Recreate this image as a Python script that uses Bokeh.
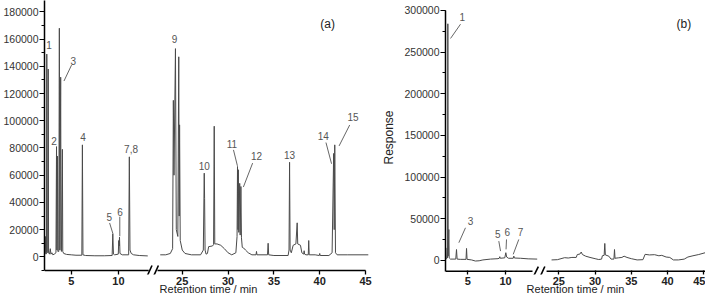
from bokeh.plotting import figure
from bokeh.layouts import row
from bokeh.models import (ColumnDataSource, FixedTicker, SingleIntervalTicker,
                          BasicTickFormatter, CustomJSTickFormatter, Label)
from bokeh.embed import file_html
from bokeh.resources import INLINE
from bokeh.core.properties import value

# ---------------- data: panel (a) ----------------
a_left_time = [2.17, 2.25, 2.30, 2.33, 2.38, 2.41, 2.45, 2.52, 2.56, 2.60, 2.70, 2.78, 2.85,
               2.95, 3.05, 3.20, 3.38, 3.44, 3.48, 3.54, 3.58, 3.68, 3.74, 3.79, 3.88, 3.92,
               3.96, 4.06, 4.10, 4.20, 4.50, 5.00, 5.50, 6.12, 6.18, 6.24, 6.50, 7.50, 8.50,
               9.33, 9.40, 9.47, 9.60, 9.98, 10.03, 10.07, 10.11, 10.16, 10.40, 11.08, 11.15,
               11.22, 11.35, 11.60, 12.20, 13.10]
a_left_resp = [3000, 2500, 15000, 2000, 3000, 149000, 4000, 3000, 138000, 3000, 2000, 6000, 2000,
               3000, 1500, 2000, 3000, 81000, 5000, 74000, 4000, 4000, 168000, 5000, 132000, 6000,
               4000, 79000, 4000, 2500, 1800, 1500, 1200, 1200, 82300, 1500, 1000, 800, 800,
               1000, 17000, 2000, 1500, 2000, 12000, 8000, 14500, 2500, 1500, 1500, 73500,
               5000, 2500, 1500, 1000, 700]
a_right_time = [22.60, 23.20, 23.70, 23.95, 24.03, 24.10, 24.26, 24.35, 24.52, 24.62, 24.67, 24.71,
                24.78, 25.00, 25.30, 26.00, 27.00, 27.30, 27.40, 27.44, 27.49, 27.60, 27.75, 27.88,
                28.30, 28.42, 28.49, 28.55, 28.80, 29.20, 29.60, 30.00, 30.40, 30.85, 30.98, 31.03,
                31.08, 31.12, 31.17, 31.27, 31.32, 31.40, 31.46, 31.55, 31.70, 31.90, 32.20, 32.60,
                33.05, 33.10, 33.15, 34.30, 34.37, 34.43, 35.00, 36.55, 36.65, 36.71, 36.77, 36.90,
                37.10, 37.40, 37.54, 37.60, 37.90, 38.05, 38.25, 38.30, 38.35, 38.50, 38.75, 38.80,
                38.85, 39.50, 39.95, 40.00, 40.05, 41.00, 41.35, 41.52, 41.58, 41.64, 41.72, 41.90,
                43.00, 45.30]
a_right_resp = [1500, 1500, 2500, 6000, 115000, 60000, 153000, 20000, 15000, 147000, 30000, 97000,
                12000, 5000, 2500, 1500, 1500, 5000, 61500, 43000, 5000, 2000, 2500, 7500,
                8000, 9000, 96000, 9500, 9500, 8500, 6000, 3000, 1500, 3000, 15000, 66400,
                20000, 64000, 18000, 54000, 16000, 51700, 14000, 7000, 6500, 5000, 3000, 1500,
                1500, 4000, 1500, 1500, 10000, 1500, 1000, 1000, 5000, 69500, 5000, 3000,
                8500, 9500, 25000, 9500, 8500, 3000, 2000, 4500, 2000, 1500, 1500, 12000,
                1500, 1500, 1000, 2500, 1000, 1000, 3000, 76000, 20000, 82300, 3000, 1500,
                1500, 1500]

# ---------------- data: panel (b) ----------------
b_left_time = [2.04, 2.20, 2.27, 2.31, 2.35, 2.40, 2.48, 2.53, 2.70, 3.40, 3.50, 3.58, 4.00,
               4.76, 4.83, 4.90, 5.50, 6.00, 6.50, 7.00, 8.00, 9.00, 9.17, 9.24, 9.31, 9.90,
               10.04, 10.15, 10.40, 11.02, 11.10, 11.18, 12.00, 13.00, 14.20]
b_left_resp = [2000, 2000, 15000, 3000, 284000, 5000, 37000, 3000, 1500, 1500, 13000, 1500, 1200,
               1200, 14300, 1200, 500, -800, -500, 500, 1500, 2000, 2500, 4400, 2500, 3000,
               9200, 4000, 2500, 2500, 5100, 2800, 2500, 1800, 1500]
b_right_time = [24.00, 24.80, 25.30, 25.80, 26.30, 26.80, 27.40, 27.55, 27.90, 28.09, 28.25, 28.70,
                29.30, 30.00, 30.50, 30.90, 31.00, 31.25, 31.34, 31.42, 31.90, 32.20, 32.60, 32.68,
                32.75, 33.20, 33.70, 34.00, 34.40, 35.00, 35.80, 36.60, 36.90, 37.50, 38.20, 38.80,
                39.20, 39.80, 40.30, 40.80, 41.50, 42.30, 42.80, 43.50, 44.30, 45.20]
b_right_resp = [500, 800, 2000, 3200, 2800, 3500, 3500, 7000, 7500, 10000, 7000, 5000,
                3500, 2000, 1000, 1500, 5500, 6000, 20300, 6500, 5000, 1500, 1500, 13000,
                2500, 3000, 3500, 5000, 3500, 2000, 500, 800, 7200, 6500, 6800, 5500,
                6000, 4000, 3500, 500, 500, 1500, 4000, 5500, 7000, 9200]

x_tick_minutes = [5, 10, 25, 30, 35, 40, 45]

# peak labels (text, time, response) and leader lines (t0, v0, t1, v1)
a_lab_text = ["1", "2", "3", "4", "5", "6", "7,8", "9", "10", "11", "12", "13", "14", "15"]
a_lab_time = [2.66, 3.18, 5.21, 6.26, 9.04, 10.17, 11.33, 24.17, 27.41, 30.41, 33.11, 36.71, 40.38, 43.63]
a_lab_resp = [156000, 84800, 143800, 88400, 29500, 33200, 79100, 159900, 66900, 82800, 74200, 74900, 88900, 103000]
a_lead_t0 = [5.03, 9.06, 10.14, 30.59, 32.68, 40.68, 43.27]
a_lead_v0 = [140900, 24900, 29500, 78600, 68900, 84000, 96900]
a_lead_t1 = [4.23, 9.41, 10.14, 31.02, 31.67, 41.29, 42.11]
a_lead_v1 = [129200, 17100, 15200, 66900, 51300, 68400, 81500]

b_lab_text = ["1", "3", "5", "6", "7"]
b_lab_time = [4.26, 5.36, 8.98, 10.23, 11.99]
b_lab_resp = [292200, 47800, 31100, 33900, 33900]
b_lead_t0 = [4.03, 4.69, 9.11, 10.13, 11.76]
b_lead_v0 = [283500, 39100, 23100, 25100, 25100]
b_lead_t1 = [2.71, 3.81, 9.34, 10.07, 11.02]
b_lead_v1 = [266400, 21200, 11100, 13200, 7200]

FONT = "Liberation Sans"
TRACE = "#4a4a4a"
LABEL_GREY = "#555555"


def make_map(off, scl):
    def f(t):
        return t if t < 18 else off + (t - 25.0) * scl
    return f


def build_panel(width, b_left, b_right, x_rng, y_rng, y_top_axis, axis_y, y_step,
                off, scl, split_u, segments, labs, leads, tag, axis_pieces, marks,
                ylabel=None):
    xmap = make_map(off, scl)
    p = figure(width=width, height=297, x_range=x_rng, y_range=y_rng,
               output_backend="svg", toolbar_location=None, title=None,
               min_border_left=b_left, min_border_right=b_right,
               min_border_top=0, min_border_bottom=22,
               outline_line_color=None, background_fill_color="white",
               border_fill_color="white")
    p.grid.visible = False

    for ts, vs in segments:
        p.line([xmap(t) for t in ts], vs, line_color=TRACE, line_width=1)

    # broken x axis line + break marks
    for t0, t1 in axis_pieces:
        p.line([xmap(t0), xmap(t1)], [axis_y, axis_y], line_color="black", line_width=1.5)
    mx0, mx1, my0, my1 = marks
    p.segment(x0=mx0, y0=[my0] * len(mx0), x1=mx1, y1=[my1] * len(mx1),
              line_color="black", line_width=1.6)

    # peak labels
    lt, ltime, lresp = labs
    src = ColumnDataSource(dict(x=[xmap(t) for t in ltime], y=lresp, text=lt))
    p.text(x="x", y="y", text="text", source=src, text_font=value(FONT),
           text_font_size="10px", text_color=LABEL_GREY, text_align="center",
           text_baseline="middle")
    t0, v0, t1, v1 = leads
    p.segment(x0=[xmap(t) for t in t0], y0=v0, x1=[xmap(t) for t in t1], y1=v1,
              line_color=LABEL_GREY, line_width=0.9)

    tag_text, tag_t, tag_v = tag
    p.add_layout(Label(x=xmap(tag_t), y=tag_v, text=tag_text, text_font=FONT,
                       text_font_size="12px", text_color="#222222",
                       text_align="center", text_baseline="middle"))

    # x axis: ticks only, drawn inward from a frame edge 4 px below the axis line
    xa = p.xaxis[0]
    xa.ticker = FixedTicker(ticks=[xmap(t) for t in x_tick_minutes])
    xa.formatter = CustomJSTickFormatter(args=dict(off=off, scl=scl, split=split_u), code="""
        const t = tick < split ? tick : 25 + (tick - off) / scl;
        return Math.round(t).toString();
    """)
    xa.axis_line_color = None
    xa.major_tick_in = 4
    xa.major_tick_out = 0
    xa.major_tick_line_color = "black"
    xa.major_tick_line_width = 1.3
    xa.minor_tick_line_color = None
    xa.major_label_standoff = 2
    xa.major_label_text_font = FONT
    xa.major_label_text_font_size = "11px"
    xa.major_label_text_font_style = "bold"
    xa.major_label_text_color = "#222222"
    xa.axis_label = "Retention time / min"
    xa.axis_label_text_font = FONT
    xa.axis_label_text_font_size = "11px"
    xa.axis_label_text_font_style = "normal"
    xa.axis_label_text_color = "#222222"
    xa.axis_label_standoff = -5

    ya = p.yaxis[0]
    ya.ticker = SingleIntervalTicker(interval=y_step, num_minor_ticks=2)
    ya.formatter = BasicTickFormatter(use_scientific=False)
    ya.bounds = (axis_y, y_top_axis)
    ya.axis_line_width = 1.5
    ya.axis_line_color = "black"
    ya.major_tick_in = 0
    ya.major_tick_out = 5
    ya.minor_tick_in = 0
    ya.minor_tick_out = 3
    ya.major_tick_line_color = "black"
    ya.minor_tick_line_color = "black"
    ya.major_label_standoff = 1
    ya.major_label_text_font = FONT
    ya.major_label_text_font_size = "10.5px"
    ya.major_label_text_color = "#333333"
    if ylabel:
        ya.axis_label = ylabel
        ya.axis_label_text_font = FONT
        ya.axis_label_text_font_size = "12px"
        ya.axis_label_text_font_style = "normal"
        ya.axis_label_text_color = "#222222"
        ya.axis_label_standoff = 5
    return p


pa = build_panel(
    378, 41, 6, (2.167, 36.9), (-12960, 188370), 188370, -10030, 20000,
    16.753, 0.9706, 13.9,
    [(a_left_time, a_left_resp), (a_right_time, a_right_resp)],
    (a_lab_text, a_lab_time, a_lab_resp),
    (a_lead_t0, a_lead_v0, a_lead_t1, a_lead_v1),
    ("(a)", 40.86, 171400),
    [(2.167, 13.2), (22.3, 45.0)],
    ([12.97, 13.66], [13.55, 14.23], -15150, -6370))

pb = build_panel(
    327, 67, 0, (2.04, 36.52), (-16986, 311960), 300000, -13040, 50000,
    17.069, 0.9615, 14.5,
    [(b_left_time, b_left_resp), (b_right_time, b_right_resp)],
    (b_lab_text, b_lab_time, b_lab_resp),
    (b_lead_t0, b_lead_v0, b_lead_t1, b_lead_v1),
    ("(b)", 42.24, 284300),
    [(2.04, 13.58), (23.31, 45.5)],
    ([13.58, 14.48], [14.35, 15.21], -21780, -7420),
    ylabel="Response")

layout = row(pa, pb)
open("out.html", "w").write(file_html(layout, INLINE))
